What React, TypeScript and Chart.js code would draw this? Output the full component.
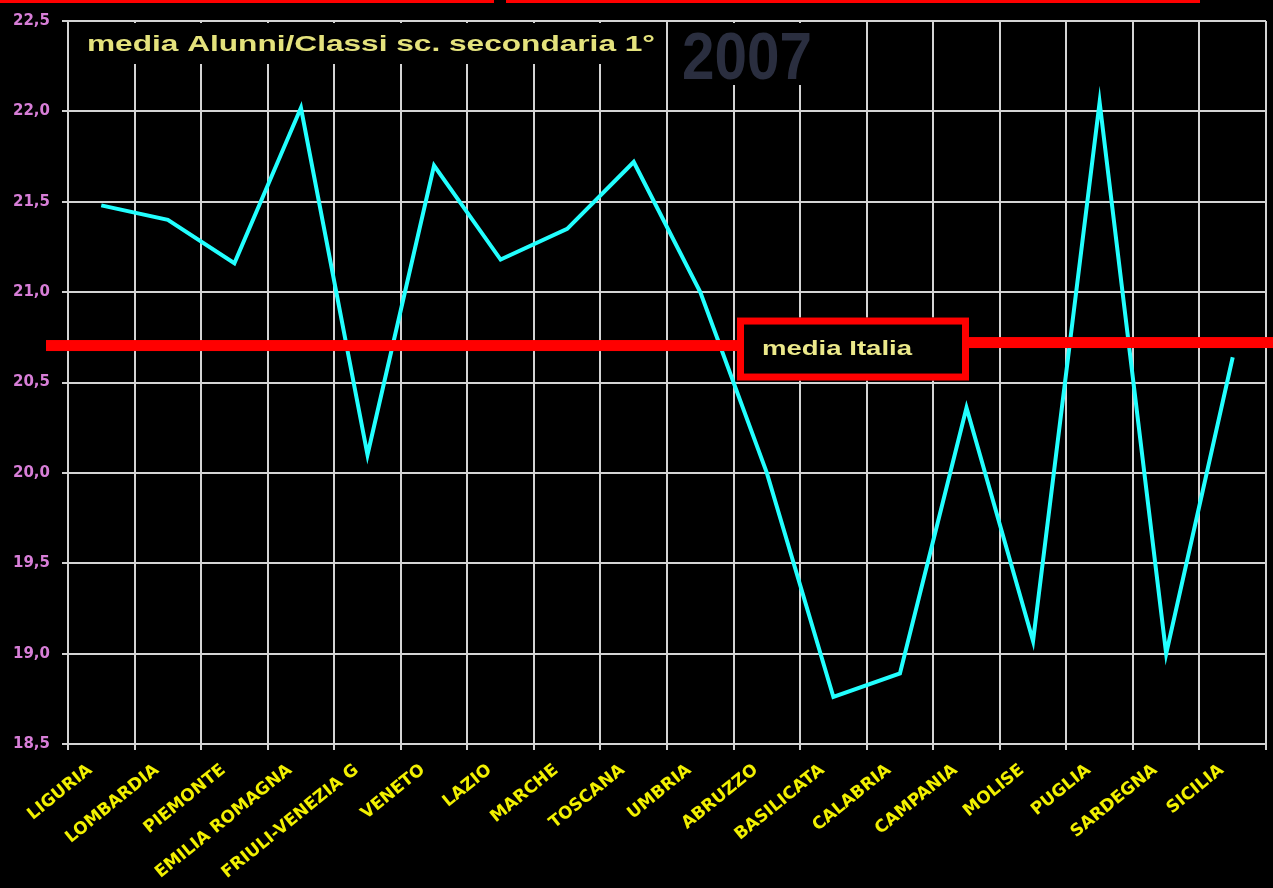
import React, { useEffect, useRef } from "react";
import { Chart, registerables } from "chart.js";

Chart.register(...registerables);

const REGIONS = [
  "LIGURIA",
  "LOMBARDIA",
  "PIEMONTE",
  "EMILIA ROMAGNA",
  "FRIULI-VENEZIA G",
  "VENETO",
  "LAZIO",
  "MARCHE",
  "TOSCANA",
  "UMBRIA",
  "ABRUZZO",
  "BASILICATA",
  "CALABRIA",
  "CAMPANIA",
  "MOLISE",
  "PUGLIA",
  "SARDEGNA",
  "SICILIA",
];
const ALUNNI_PER_CLASSE = [
  21.48, 21.4, 21.16, 22.02, 20.1, 21.7, 21.18, 21.35, 21.72, 21.0, 20.0, 18.76,
  18.89, 20.36, 19.07, 22.05, 19.0, 20.64,
];
const MEDIA_ITALIA = 20.71;
const Y_MIN = 18.5;
const Y_MAX = 22.5;
const Y_STEP = 0.5;
const TITLE = "media Alunni/Classi sc. secondaria 1°";
const YEAR = "2007";
const MEDIA_LABEL = "media Italia";

function drawStretched(
  ctx: CanvasRenderingContext2D,
  text: string,
  x: number,
  baseline: number,
  font: string,
  color: string,
  targetWidth: number
) {
  ctx.save();
  ctx.font = font;
  const w = ctx.measureText(text).width;
  ctx.translate(x, baseline);
  ctx.scale(targetWidth / w, 1);
  ctx.fillStyle = color;
  ctx.textBaseline = "alphabetic";
  ctx.textAlign = "left";
  ctx.fillText(text, 0, 0);
  ctx.restore();
}

const decorPlugin = {
  id: "decor",
  beforeDraw(chart: any) {
    const ctx = chart.ctx;
    ctx.save();
    ctx.fillStyle = "#000000";
    ctx.fillRect(0, 0, chart.width, chart.height);
    ctx.restore();
  },
  beforeDatasetsDraw(chart: any) {
    const ctx = chart.ctx;
    const a = chart.chartArea;
    ctx.save();
    ctx.fillStyle = "#000000";
    ctx.fillRect(a.left + 2, a.top + 2, 594, 41);
    ctx.fillRect(a.left + 604, a.top + 2, 192, 62);
    ctx.restore();
    drawStretched(
      ctx,
      TITLE,
      a.left + 19,
      a.top + 30,
      "bold 22px 'Liberation Sans', Arial, sans-serif",
      "#e4e27c",
      568
    );
    drawStretched(
      ctx,
      YEAR,
      a.left + 614,
      a.top + 58,
      "bold 67px 'Liberation Sans', Arial, sans-serif",
      "#2a2e3f",
      130
    );
  },
  afterDatasetsDraw(chart: any) {
    const ctx = chart.ctx;
    const y = chart.scales.y.getPixelForValue(MEDIA_ITALIA);
    const boxL = 737;
    const boxR = 969;
    const boxT = y - 27;
    const boxB = y + 36;
    ctx.save();
    ctx.fillStyle = "#ff0000";
    ctx.fillRect(46, y - 5.5 + 1, boxL - 46, 11);
    ctx.fillRect(boxR, y - 5.5 - 2, chart.width - boxR, 11);
    ctx.fillStyle = "#000000";
    ctx.fillRect(boxL, boxT, boxR - boxL, boxB - boxT);
    ctx.strokeStyle = "#ff0000";
    ctx.lineWidth = 7;
    ctx.strokeRect(boxL + 3.5, boxT + 3.5, boxR - boxL - 7, boxB - boxT - 7);
    ctx.restore();
    drawStretched(
      ctx,
      MEDIA_LABEL,
      boxL + 25,
      y + 10,
      "bold 21px 'Liberation Sans', Arial, sans-serif",
      "#ece98a",
      150
    );
  },
  afterDraw(chart: any) {
    const ctx = chart.ctx;
    ctx.save();
    ctx.fillStyle = "#ff0000";
    ctx.fillRect(0, 0, 494, 3);
    ctx.fillRect(506, 0, 694, 3);
    ctx.restore();
  },
};

export default function App() {
  const ref = useRef<HTMLCanvasElement | null>(null);

  useEffect(() => {
    document.body.style.margin = "0";
    document.body.style.background = "#000";
    if (!ref.current) return;
    const chart = new Chart(ref.current, {
      type: "line",
      data: {
        labels: REGIONS,
        datasets: [
          {
            label: "media Alunni/Classi",
            data: ALUNNI_PER_CLASSE,
            borderColor: "#22ffff",
            borderWidth: 4,
            pointRadius: 0,
            tension: 0,
            fill: false,
          },
        ],
      },
      options: {
        animation: false,
        responsive: false,
        devicePixelRatio: 1,
        layout: { padding: { top: 19, right: 7, left: 0, bottom: 0 } },
        plugins: {
          legend: { display: false },
          tooltip: { enabled: false },
          title: { display: false },
        },
        scales: {
          x: {
            offset: true,
            grid: {
              offset: true,
              color: "#d4d4d4",
              lineWidth: 2,
              tickLength: 6,
              drawTicks: true,
            },
            border: { color: "#d4d4d4", width: 2 },
            ticks: {
              autoSkip: false,
              maxRotation: 39,
              minRotation: 39,
              color: "#f2f000",
              padding: 10,
              labelOffset: -11,
              font: { family: "'DejaVu Sans', sans-serif", weight: "bold", size: 17 },
            },
            afterFit: (s: any) => {
              s.height = 144;
            },
          },
          y: {
            min: Y_MIN,
            max: Y_MAX,
            grid: {
              color: "#d4d4d4",
              lineWidth: 2,
              tickLength: 6,
            },
            border: { color: "#d4d4d4", width: 2 },
            ticks: {
              stepSize: Y_STEP,
              color: "#d77ed7",
              padding: 12,
              font: { family: "'DejaVu Sans', sans-serif", weight: "bold", size: 15 },
              callback: (v: any) => Number(v).toFixed(1).replace(".", ","),
            },
            afterFit: (s: any) => {
              s.width = 68;
            },
          },
        },
      },
      plugins: [decorPlugin],
    } as any);
    return () => chart.destroy();
  }, []);

  return (
    <div style={{ width: 1273, height: 888, background: "#000" }}>
      <canvas ref={ref} width={1273} height={888} style={{ display: "block" }} />
    </div>
  );
}
